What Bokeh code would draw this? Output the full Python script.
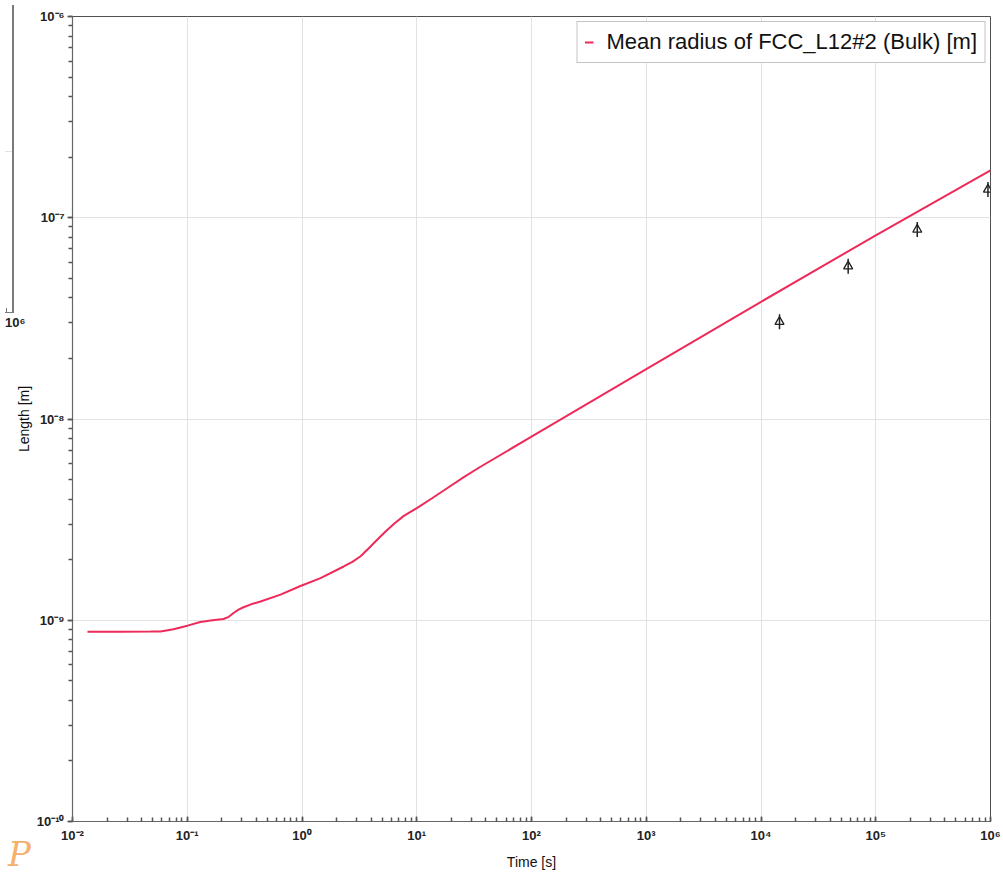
from bokeh.plotting import figure
from bokeh.models import (Range1d, LogTicker, CustomJSTickFormatter, Legend,
                          LegendItem, Div)
from bokeh.layouts import column
from bokeh.embed import file_html
from bokeh.resources import INLINE
import numpy as np

# Simulated mean precipitate radius (FCC_L12#2, bulk) versus time
time_s = [0.0135, 0.0262, 0.0479, 0.0585, 0.0759, 0.1005, 0.130, 0.166, 0.207,
          0.230, 0.255, 0.280, 0.309, 0.360, 0.435, 0.650, 0.970, 1.45, 2.31,
          2.75, 3.24, 3.82, 4.52, 5.35, 6.31, 7.71, 10.1, 13.6, 18.4, 25.7,
          35.9, 100.0, 1000.0, 1.0e4, 1.0e5, 1.0e6]
radius_m = [8.77e-10, 8.77e-10, 8.78e-10, 8.80e-10, 9.02e-10, 9.40e-10, 9.80e-10,
            1.0e-9, 1.014e-9, 1.04e-9, 1.09e-9, 1.13e-9, 1.16e-9, 1.20e-9,
            1.24e-9, 1.34e-9, 1.48e-9, 1.62e-9, 1.85e-9, 1.95e-9, 2.08e-9,
            2.28e-9, 2.51e-9, 2.76e-9, 3.01e-9, 3.30e-9, 3.62e-9, 4.04e-9,
            4.53e-9, 5.14e-9, 5.79e-9, 8.17e-9, 1.77e-8, 3.82e-8, 8.18e-8,
            1.72e-7]

# Measured mean radii
exp_time_s = [1.45e4, 5.75e4, 2.3e5, 9.5e5]
exp_radius_m = [3.04e-8, 5.74e-8, 8.73e-8, 1.38e-7]

FONT = "Liberation Sans"
AXIS_GREY = "#666666"

p = figure(width=1003, height=872, x_axis_type="log", y_axis_type="log",
           x_range=Range1d(1e-2, 1e6), y_range=Range1d(1e-10, 1e-6),
           output_backend="svg", toolbar_location=None,
           min_border_left=72, min_border_right=13,
           min_border_top=16, min_border_bottom=50)
p.background_fill_color = "white"
p.border_fill_color = "white"
p.outline_line_color = "#505050"
p.outline_line_width = 1

fmt = CustomJSTickFormatter(code="""
const sup = {'-':'\u207b','0':'\u2070','1':'\u00b9','2':'\u00b2','3':'\u00b3',
             '4':'\u2074','5':'\u2075','6':'\u2076','7':'\u2077','8':'\u2078','9':'\u2079'};
const e = Math.round(Math.log10(tick));
return '10' + String(e).split('').map(c => sup[c]).join('');
""")

xt = LogTicker(desired_num_ticks=9, num_minor_ticks=10)
yt = LogTicker(desired_num_ticks=5, num_minor_ticks=10)
p.xaxis.ticker = xt
p.yaxis.ticker = yt
p.xgrid.ticker = xt
p.ygrid.ticker = yt
p.xaxis.formatter = fmt
p.yaxis.formatter = fmt

for ax in (p.xaxis, p.yaxis):
    ax.axis_line_color = AXIS_GREY
    ax.axis_line_width = 1.2
    ax.major_tick_line_color = "#555555"
    ax.minor_tick_line_color = "#555555"
    ax.major_tick_line_width = 1.5
    ax.minor_tick_line_width = 1.5
    ax.major_label_text_font = FONT
    ax.major_label_text_font_style = "bold"
    ax.major_label_text_font_size = "13px"
    ax.major_label_text_color = "#222222"
    ax.axis_label_text_font = FONT
    ax.axis_label_text_font_style = "normal"
    ax.axis_label_text_color = "#111111"
    ax.axis_label_text_font_size = "14px"

p.xaxis.axis_label = "Time [s]"
p.xaxis.major_tick_in = 5
p.xaxis.major_tick_out = 0
p.xaxis.minor_tick_in = 4
p.xaxis.minor_tick_out = 0
p.xaxis.major_label_standoff = 6
p.xaxis.axis_label_standoff = 8

p.yaxis.axis_label = "Length [m]"
p.yaxis.major_tick_in = 0
p.yaxis.major_tick_out = 5
p.yaxis.minor_tick_in = 0
p.yaxis.minor_tick_out = 4
p.yaxis.major_label_standoff = 3
p.yaxis.axis_label_standoff = 2

p.xgrid.grid_line_color = "#e2e2e2"
p.ygrid.grid_line_color = "#e2e2e2"

line = p.line(time_s, radius_m, line_color="#ee2a5a", line_width=2)

# Experimental points: open triangle with a vertical bar through it
p.scatter(exp_time_s, exp_radius_m, marker="dash", angle=np.pi / 2, size=15,
          line_color="#222222", line_width=1.5)
p.scatter(exp_time_s, exp_radius_m, marker="triangle", size=9,
          fill_color=None, line_color="#222222", line_width=1.3)

legend = Legend(items=[LegendItem(label="Mean radius of FCC_L12#2 (Bulk) [m]",
                                  renderers=[line])],
                location="top_right")
legend.label_text_font = FONT
legend.label_text_font_size = "22px"
legend.label_text_color = "#111111"
legend.glyph_width = 9
legend.glyph_height = 22
legend.label_standoff = 13
legend.padding = 7
legend.margin = 5
legend.spacing = 0
legend.border_line_color = "#8a8a8a"
legend.border_line_width = 1
legend.background_fill_alpha = 1.0
p.add_layout(legend)

# Edge of the neighbouring panel and the module logo, overlaid on the left margin
side = Div(
    text=(
        '<div style="position:absolute;left:7px;top:0px;width:0px;height:308px;'
        'border-left:2px solid #7a7a7a"></div>'
        '<div style="position:absolute;left:0px;top:307px;width:9px;height:0px;'
        'border-top:1.5px solid #7a7a7a"></div>'
        '<div style="position:absolute;left:1px;top:303px;width:0px;height:4px;'
        'border-left:1px solid #7a7a7a"></div>'
        '<div style="position:absolute;left:0px;top:146px;width:7px;height:0px;'
        'border-top:1px solid #e2e2e2"></div>'
        '<div style="position:absolute;left:0px;top:311px;font-family:\'Liberation Sans\';'
        'font-weight:bold;font-size:13px;line-height:14px;color:#222">10\u2076</div>'
        '<div style="position:absolute;left:3px;top:831px;font-family:\'DejaVu Serif\';'
        'font-style:italic;font-size:34px;color:#f4b06c;line-height:36px">P</div>'
    ),
    width=40, height=872,
    styles={"position": "absolute", "left": "0px", "top": "0px", "z-index": "5",
            "overflow": "visible", "pointer-events": "none"},
)

page = column(p, side)
open("out.html", "w").write(file_html(page, INLINE))
